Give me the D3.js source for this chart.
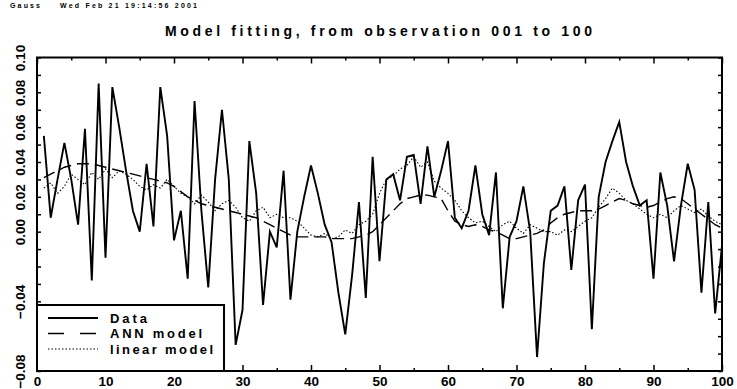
<!DOCTYPE html>
<html>
<head>
<meta charset="utf-8">
<script src="https://cdn.jsdelivr.net/npm/d3@7"></script>
<style>
  body { margin: 0; background: #fff; }
  svg { display: block; }
  text { font-family: "Liberation Sans", Arial, sans-serif; font-weight: bold; fill: #000; }
</style>
</head>
<body>
<svg id="chart" width="737" height="389"></svg>
<script>
// Observed series (observations 001..100)
const dataSeries = [
  0.055, 0.008, 0.030, 0.051, 0.030, 0.004, 0.059, -0.028, 0.085, -0.015,
  0.083, 0.060, 0.035, 0.012, 0.000, 0.039, 0.003, 0.083, 0.055, -0.005,
  0.012, -0.027, 0.075, 0.012, -0.032, 0.030, 0.070, 0.030, -0.065, -0.045,
  0.052, 0.022, -0.042, 0.000, -0.009, 0.035, -0.039, 0.000, 0.020, 0.038,
  0.022, 0.004, -0.006, -0.035, -0.059, -0.025, 0.017, -0.038, 0.043, -0.017,
  0.030, 0.033, 0.018, 0.043, 0.044, 0.016, 0.049, 0.020, 0.035, 0.052,
  0.008, 0.002, 0.012, 0.038, 0.010, -0.002, 0.034, -0.044, -0.003, 0.006,
  0.026, 0.000, -0.072, -0.018, 0.012, 0.015, 0.026, -0.022, 0.018, 0.027,
  -0.056, 0.020, 0.040, 0.052, 0.063, 0.040, 0.026, 0.015, 0.018, -0.027,
  0.034, 0.015, -0.017, 0.015, 0.039, 0.024, -0.035, 0.017, -0.047, -0.008
];

// Fitted values of the neural network model
const annSeries = [
  0.031, 0.033, 0.035, 0.037, 0.038, 0.039, 0.039, 0.039, 0.038, 0.037,
  0.036, 0.035, 0.034, 0.033, 0.032, 0.031, 0.030, 0.029, 0.028, 0.026,
  0.023, 0.020, 0.018, 0.016, 0.015, 0.014, 0.013, 0.012, 0.011, 0.010,
  0.009, 0.008, 0.006, 0.004, 0.002, 0.000, -0.002, -0.003, -0.003, -0.003,
  -0.003, -0.003, -0.004, -0.004, -0.004, -0.004, -0.003, -0.002, 0.000, 0.004,
  0.008, 0.012, 0.016, 0.019, 0.020, 0.021, 0.021, 0.020, 0.019, 0.012,
  0.006, 0.004, 0.003, 0.004, 0.003, 0.001, 0.000, -0.002, -0.004, -0.004,
  -0.003, -0.002, -0.001, 0.001, 0.005, 0.008, 0.010, 0.011, 0.012, 0.012,
  0.012, 0.013, 0.015, 0.017, 0.019, 0.018, 0.016, 0.015, 0.014, 0.015,
  0.017, 0.019, 0.020, 0.019, 0.016, 0.013, 0.010, 0.007, 0.004, 0.002
];

// Fitted values of the linear model
const linearSeries = [
  0.025, 0.028, 0.022, 0.026, 0.033, 0.030, 0.027, 0.034, 0.030, 0.036,
  0.031, 0.035, 0.033, 0.030, 0.026, 0.024, 0.027, 0.025, 0.030, 0.026,
  0.022, 0.020, 0.016, 0.021, 0.017, 0.012, 0.016, 0.018, 0.014, 0.008,
  0.006, 0.012, 0.014, 0.008, 0.010, 0.008, 0.008, 0.006, 0.002, -0.002,
  -0.003, -0.001, -0.004, -0.003, 0.001, -0.001, 0.004, 0.006, 0.010, 0.022,
  0.030, 0.032, 0.036, 0.038, 0.043, 0.037, 0.040, 0.029, 0.025, 0.022,
  0.018, 0.012, 0.008, 0.005, 0.006, 0.003, 0.000, 0.004, 0.006, 0.002,
  -0.001, 0.004, 0.002, 0.000, 0.000, -0.002, 0.001, 0.000, 0.003, 0.006,
  0.008, 0.014, 0.019, 0.025, 0.022, 0.018, 0.016, 0.013, 0.010, 0.008,
  0.010, 0.008, 0.012, 0.015, 0.013, 0.011, 0.013, 0.009, 0.006, 0.004
];

const xMajorTicks = [0, 10, 20, 30, 40, 50, 60, 70, 80, 90, 100];
const xMinorTicks = [5, 15, 25, 35, 45, 55, 65, 75, 85, 95];
const yMinorTicks = [-0.08, -0.07, -0.06, -0.05, -0.04, -0.03, -0.02, -0.01, 0.00,
                     0.01, 0.02, 0.03, 0.04, 0.05, 0.06, 0.07, 0.08, 0.09, 0.10];
const yLabelTicks = [-0.08, -0.04, 0.00, 0.02, 0.04, 0.06, 0.08, 0.10];

const titleText = "Model fitting, from observation 001 to 100";
const stampText = ["Gauss", "Wed Feb 21 19:14:56 2001"];
const legendNames = ["Data", "ANN model", "linear model"];

const svg = d3.select("#chart");
const plot = { left: 37, right: 722, top: 57.5, bottom: 371 };

const x = d3.scaleLinear().domain([0, 100]).range([plot.left, plot.right]);
const y = d3.scaleLinear().domain([-0.08, 0.10]).range([plot.bottom, plot.top]);

// header stamp and title
svg.append("text").attr("x", 10).attr("y", 8).attr("font-size", 7)
  .attr("textLength", 30).attr("lengthAdjust", "spacing").text(stampText[0]);
svg.append("text").attr("x", 60).attr("y", 8).attr("font-size", 7)
  .attr("textLength", 137).attr("lengthAdjust", "spacing").text(stampText[1]);
svg.append("text").attr("x", 165).attr("y", 36).attr("font-size", 14)
  .attr("textLength", 427).attr("lengthAdjust", "spacing").text(titleText);

// series lines
const lineOf = d3.line().x((d, i) => x(i + 1)).y(d => y(d));
svg.append("clipPath").attr("id", "plotclip").append("rect")
  .attr("x", plot.left).attr("y", plot.top)
  .attr("width", plot.right - plot.left).attr("height", plot.bottom - plot.top);
const series = svg.append("g").attr("clip-path", "url(#plotclip)");

series.append("path").datum(linearSeries).attr("d", lineOf)
  .attr("fill", "none").attr("stroke", "#000").attr("stroke-width", 1.1)
  .attr("stroke-dasharray", "1.5,2");
series.append("path").datum(annSeries).attr("d", lineOf)
  .attr("fill", "none").attr("stroke", "#000").attr("stroke-width", 1.4)
  .attr("stroke-dasharray", "12,6");
series.append("path").datum(dataSeries).attr("d", lineOf)
  .attr("fill", "none").attr("stroke", "#000").attr("stroke-width", 1.9)
  .attr("stroke-linejoin", "miter");

// axes: inward ticks on all four sides
function styleAxis(g) {
  g.select(".domain").remove();
  g.selectAll(".tick line").attr("stroke", "#000").attr("stroke-width", 1.5);
}
svg.append("g").attr("transform", `translate(0,${plot.bottom})`)
  .call(d3.axisBottom(x).tickValues(xMajorTicks).tickSize(-6).tickPadding(5)
        .tickFormat(d3.format("d")))
  .call(styleAxis)
  .call(g => g.selectAll("text").attr("font-size", 13.5).attr("fill", "#000")
        .attr("font-family", "Liberation Sans, Arial, sans-serif").attr("font-weight", "bold"));
svg.append("g").attr("transform", `translate(0,${plot.bottom})`)
  .call(d3.axisBottom(x).tickValues(xMinorTicks).tickSize(-3).tickFormat(""))
  .call(styleAxis);
svg.append("g").attr("transform", `translate(0,${plot.top})`)
  .call(d3.axisTop(x).tickValues(xMajorTicks).tickSize(-6).tickFormat(""))
  .call(styleAxis);
svg.append("g").attr("transform", `translate(0,${plot.top})`)
  .call(d3.axisTop(x).tickValues(xMinorTicks).tickSize(-3).tickFormat(""))
  .call(styleAxis);
svg.append("g").attr("transform", `translate(${plot.left},0)`)
  .call(d3.axisLeft(y).tickValues(yMinorTicks).tickSize(-4).tickFormat(""))
  .call(styleAxis);
svg.append("g").attr("transform", `translate(${plot.right},0)`)
  .call(d3.axisRight(y).tickValues(yMinorTicks).tickSize(-4).tickFormat(""))
  .call(styleAxis);

// rotated y labels
svg.append("g").attr("transform", `translate(${plot.left},0)`)
  .call(d3.axisLeft(y).tickValues(yLabelTicks).tickSize(0).tickPadding(12)
        .tickFormat(d3.format(".2f")))
  .call(g => g.select(".domain").remove())
  .call(g => g.selectAll("text")
        .attr("font-size", 13.5).attr("fill", "#000").attr("font-weight", "bold")
        .attr("font-family", "Liberation Sans, Arial, sans-serif")
        .attr("text-anchor", "middle").attr("dy", 0)
        .attr("x", 0).attr("y", -12)
        .attr("transform", "rotate(-90)")
        .text(d => d3.format(".2f")(d).replace("-", "\u2212")));

// legend
const legend = svg.append("g");
legend.append("rect").attr("x", plot.left).attr("y", 305)
  .attr("width", 187).attr("height", plot.bottom - 305)
  .attr("fill", "#fff").attr("stroke", "#000").attr("stroke-width", 2);
const legendStyles = [
  { dash: null, width: 1.9, textLen: 37 },
  { dash: "16,16", width: 1.4, textLen: 92 },
  { dash: "1.5,2", width: 1.1, textLen: 103 }
];
legendNames.forEach((name, i) => {
  const yy = 318 + i * 15.5;
  const s = legendStyles[i];
  legend.append("line").attr("x1", 48).attr("x2", 98).attr("y1", yy).attr("y2", yy)
    .attr("stroke", "#000").attr("stroke-width", s.width)
    .attr("stroke-dasharray", s.dash);
  legend.append("text").attr("x", 110).attr("y", yy + 4.5).attr("font-size", 13)
    .attr("textLength", s.textLen).attr("lengthAdjust", "spacing").text(name);
});

// frame
svg.append("rect").attr("x", plot.left).attr("y", plot.top)
  .attr("width", plot.right - plot.left).attr("height", plot.bottom - plot.top)
  .attr("fill", "none").attr("stroke", "#000").attr("stroke-width", 2);
</script>
</body>
</html>
